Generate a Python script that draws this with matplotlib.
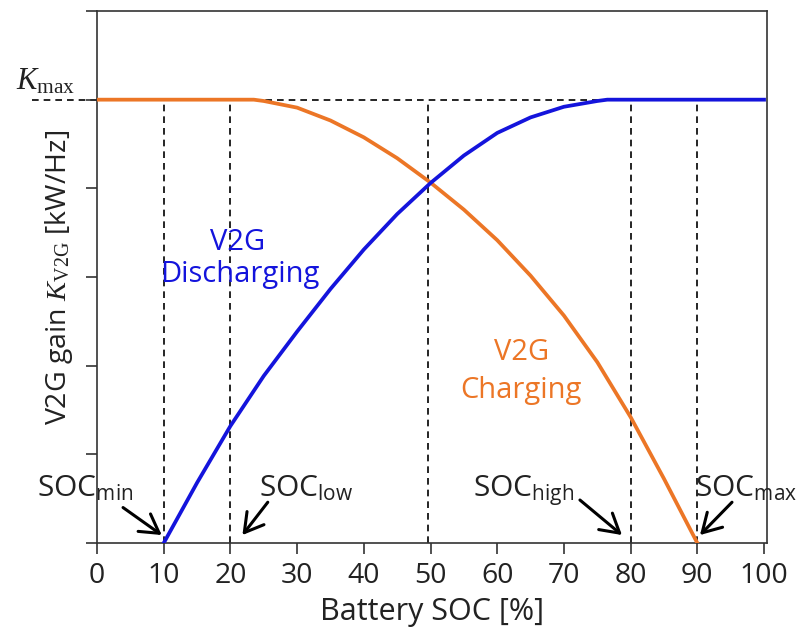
import numpy as np
import matplotlib
matplotlib.use("Agg")
import matplotlib.pyplot as plt

plt.rcParams['font.family'] = ['Open Sans', 'DejaVu Sans']
plt.rcParams['mathtext.fontset'] = 'custom'
plt.rcParams['mathtext.rm'] = 'Open Sans'
plt.rcParams['mathtext.it'] = 'Liberation Serif:italic'
plt.rcParams['mathtext.sf'] = 'Liberation Serif'

# Data (gain normalised to Kmax = 1)
soc_dis = [10, 15, 20, 25, 30, 35, 40, 45, 50, 55, 60, 65, 70, 75, 76.5, 100]
gain_dis = [0, 0.136, 0.264, 0.377, 0.477, 0.573, 0.662, 0.742, 0.812, 0.874, 0.925, 0.96, 0.984, 0.997, 1.0, 1.0]

soc_chg = [0, 23.5, 25, 30, 35, 40, 45, 50, 55, 60, 65, 70, 75, 80, 85, 90]
gain_chg = [1.0, 1.0, 0.997, 0.982, 0.953, 0.915, 0.868, 0.813, 0.752, 0.683, 0.603, 0.513, 0.408, 0.284, 0.145, 0]

soc_marks = [10, 20, 49.6, 80, 90]
x_ticks = [0, 10, 20, 30, 40, 50, 60, 70, 80, 90, 100]
y_ticks = [0, 0.2, 0.4, 0.6, 0.8, 1.0, 1.2]

blue = '#1414dc'
orange = '#ec7626'
axcol = '#333333'
txt = '#222222'

fig = plt.figure(figsize=(7.96, 6.32), dpi=100)
ax = fig.add_axes([0.1219, 0.1408, 0.8417, 0.8418])

# dashed guide lines
for s in soc_marks:
    ax.plot([s, s], [0, 1], color='black', ls=(0, (4, 3)), lw=1.2, zorder=1)
ax.plot([-9.7, 100.45], [1, 1], color='black', ls=(0, (4, 3)), lw=1.2,
        clip_on=False, zorder=1)

ax.plot(soc_chg, gain_chg, color=orange, lw=2.7, zorder=3)
ax.plot(soc_dis, gain_dis, color=blue, lw=2.7, zorder=4)

ax.set_xlim(0, 100.45)
ax.set_ylim(0, 1.2)
ax.set_xticks(x_ticks)
ax.set_yticks(y_ticks)
ax.set_yticklabels([])
ax.tick_params(direction='out', length=8, width=1.2, color=axcol,
               labelsize=20.5, labelcolor=txt, pad=6)
for sp in ax.spines.values():
    sp.set_color(axcol)
    sp.set_linewidth(1.2)

ax.set_xlabel('Battery SOC [%]', fontsize=22, color=txt, labelpad=5)
ax.set_ylabel(r'V2G gain $\mathit{K}_{\mathsf{V2G}}$ [kW/Hz]', fontsize=20.5,
              color=txt, labelpad=2)

ax.text(-3.3, 1.023, r'$\mathit{K}_{\mathsf{max}}$', fontsize=22,
        ha='right', va='baseline', color=txt)

ax.text(21.1, 0.661, 'V2G', color=blue, fontsize=21, ha='center', va='baseline')
ax.text(21.4, 0.589, 'Discharging', color=blue, fontsize=21, ha='center', va='baseline')
ax.text(63.6, 0.413, 'V2G', color=orange, fontsize=21, ha='center', va='baseline')
ax.text(63.6, 0.327, 'Charging', color=orange, fontsize=21, ha='center', va='baseline')

# SOC labels with arrows
labels = [r'SOC$_{\mathrm{min}}$', r'SOC$_{\mathrm{low}}$',
          r'SOC$_{\mathrm{high}}$', r'SOC$_{\mathrm{max}}$']
label_xy = [(-9.0, 0.104), (24.3, 0.104), (56.4, 0.104), (89.7, 0.104)]
arrow_tail = [(3.9, 0.08), (25.6, 0.092), (72.4, 0.097), (95.2, 0.092)]
arrow_head = [(9.7, 0.018), (21.8, 0.018), (78.7, 0.018), (90.4, 0.018)]
for lab, (lx, ly), t, h in zip(labels, label_xy, arrow_tail, arrow_head):
    ax.text(lx, ly, lab, fontsize=21.5, color=txt, ha='left', va='baseline',
            clip_on=False)
    ax.annotate('', xy=h, xytext=t,
                arrowprops=dict(arrowstyle='->,head_length=0.6,head_width=0.35',
                                color='black', lw=2.2,
                                mutation_scale=22, shrinkA=0, shrinkB=0))

fig.savefig('out.png', dpi=100)
